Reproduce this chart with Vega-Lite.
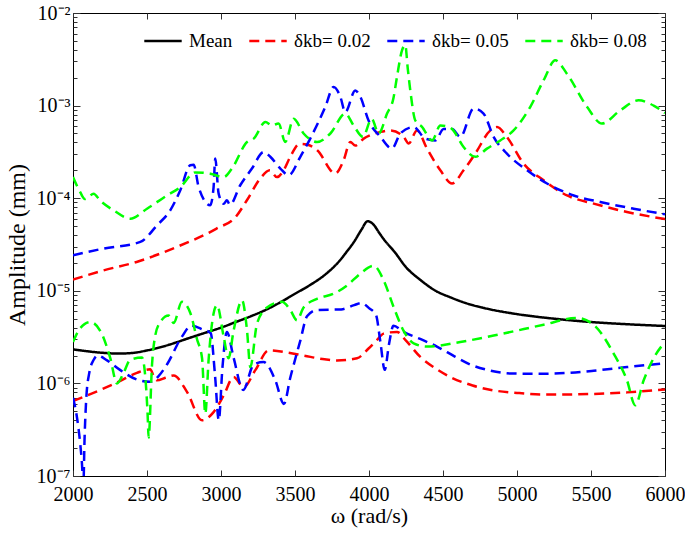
{
"$schema": "https://vega.github.io/schema/vega-lite/v6.json",
"width": 592, "height": 463,
"autosize": {"type": "none"},
"padding": {"left": 73, "top": 13, "right": 20, "bottom": 64},
"config": {"view": {"stroke": "black", "strokeWidth": 1}, "font": "Liberation Serif, Times New Roman, serif", "axis": {"grid": false, "domain": false, "tickColor": "#333", "labelColor": "black", "titleColor": "black", "labelFont": "Liberation Serif, Times New Roman, serif", "titleFont": "Liberation Serif, Times New Roman, serif", "titleFontWeight": "normal", "labelFlush": false}, "legend": {"labelFont": "Liberation Serif, Times New Roman, serif"}},
"datasets": {
"curves": [
{"s":"Mean","c":"m","w":2000,"a":2.33e-6},{"s":"Mean","c":"m","w":2100,"a":2.22e-6},{"s":"Mean","c":"m","w":2200,"a":2.14e-6},{"s":"Mean","c":"m","w":2300,"a":2.10e-6},{"s":"Mean","c":"m","w":2400,"a":2.13e-6},{"s":"Mean","c":"m","w":2500,"a":2.27e-6},{"s":"Mean","c":"m","w":2600,"a":2.48e-6},{"s":"Mean","c":"m","w":2700,"a":2.78e-6},{"s":"Mean","c":"m","w":2800,"a":3.15e-6},{"s":"Mean","c":"m","w":2900,"a":3.55e-6},{"s":"Mean","c":"m","w":3000,"a":4.0e-6},{"s":"Mean","c":"m","w":3100,"a":4.6e-6},{"s":"Mean","c":"m","w":3200,"a":5.3e-6},{"s":"Mean","c":"m","w":3300,"a":6.2e-6},{"s":"Mean","c":"m","w":3400,"a":7.5e-6},{"s":"Mean","c":"m","w":3500,"a":9.3e-6},{"s":"Mean","c":"m","w":3600,"a":1.15e-5},{"s":"Mean","c":"m","w":3700,"a":1.48e-5},{"s":"Mean","c":"m","w":3800,"a":2.1e-5},{"s":"Mean","c":"m","w":3850,"a":2.65e-5},{"s":"Mean","c":"m","w":3900,"a":3.4e-5},{"s":"Mean","c":"m","w":3950,"a":4.6e-5},{"s":"Mean","c":"m","w":3990,"a":5.65e-5},{"s":"Mean","c":"m","w":4030,"a":5.2e-5},{"s":"Mean","c":"m","w":4070,"a":4.2e-5},{"s":"Mean","c":"m","w":4100,"a":3.6e-5},{"s":"Mean","c":"m","w":4175,"a":2.6e-5},{"s":"Mean","c":"m","w":4250,"a":1.8e-5},{"s":"Mean","c":"m","w":4350,"a":1.3e-5},{"s":"Mean","c":"m","w":4450,"a":1.0e-5},{"s":"Mean","c":"m","w":4550,"a":8.5e-6},{"s":"Mean","c":"m","w":4650,"a":7.4e-6},{"s":"Mean","c":"m","w":4800,"a":6.4e-6},{"s":"Mean","c":"m","w":5000,"a":5.6e-6},{"s":"Mean","c":"m","w":5250,"a":5.0e-6},{"s":"Mean","c":"m","w":5500,"a":4.6e-6},{"s":"Mean","c":"m","w":5750,"a":4.35e-6},{"s":"Mean","c":"m","w":6000,"a":4.17e-6},
{"s":"δkb= 0.02","c":"r1","w":2000,"a":1.32e-5},{"s":"δkb= 0.02","c":"r1","w":2200,"a":1.65e-5},{"s":"δkb= 0.02","c":"r1","w":2430,"a":2.05e-5},{"s":"δkb= 0.02","c":"r1","w":2700,"a":2.97e-5},{"s":"δkb= 0.02","c":"r1","w":2970,"a":4.7e-5},{"s":"δkb= 0.02","c":"r1","w":3100,"a":6.3e-5},{"s":"δkb= 0.02","c":"r1","w":3175,"a":9.5e-5},{"s":"δkb= 0.02","c":"r1","w":3265,"a":1.63e-4},{"s":"δkb= 0.02","c":"r1","w":3330,"a":2.0e-4},{"s":"δkb= 0.02","c":"r1","w":3378,"a":1.69e-4},{"s":"δkb= 0.02","c":"r1","w":3423,"a":2.0e-4},{"s":"δkb= 0.02","c":"r1","w":3468,"a":2.8e-4},{"s":"δkb= 0.02","c":"r1","w":3530,"a":3.85e-4},{"s":"δkb= 0.02","c":"r1","w":3580,"a":3.8e-4},{"s":"δkb= 0.02","c":"r1","w":3650,"a":3.3e-4},{"s":"δkb= 0.02","c":"r1","w":3772,"a":1.85e-4},{"s":"δkb= 0.02","c":"r1","w":3828,"a":2.56e-4},{"s":"δkb= 0.02","c":"r1","w":3874,"a":4.05e-4},{"s":"δkb= 0.02","c":"r1","w":3907,"a":3.7e-4},{"s":"δkb= 0.02","c":"r1","w":3964,"a":4.4e-4},{"s":"δkb= 0.02","c":"r1","w":4010,"a":4.8e-4},{"s":"δkb= 0.02","c":"r1","w":4077,"a":5.2e-4},{"s":"δkb= 0.02","c":"r1","w":4145,"a":5.4e-4},{"s":"δkb= 0.02","c":"r1","w":4234,"a":4.6e-4},{"s":"δkb= 0.02","c":"r1","w":4268,"a":3.9e-4},{"s":"δkb= 0.02","c":"r1","w":4324,"a":5.4e-4},{"s":"δkb= 0.02","c":"r1","w":4392,"a":3.43e-4},{"s":"δkb= 0.02","c":"r1","w":4482,"a":2.0e-4},{"s":"δkb= 0.02","c":"r1","w":4561,"a":1.44e-4},{"s":"δkb= 0.02","c":"r1","w":4639,"a":2.0e-4},{"s":"δkb= 0.02","c":"r1","w":4718,"a":3.03e-4},{"s":"δkb= 0.02","c":"r1","w":4820,"a":5.4e-4},{"s":"δkb= 0.02","c":"r1","w":4865,"a":5.87e-4},{"s":"δkb= 0.02","c":"r1","w":4932,"a":4.58e-4},{"s":"δkb= 0.02","c":"r1","w":5045,"a":2.36e-4},{"s":"δkb= 0.02","c":"r1","w":5180,"a":1.56e-4},{"s":"δkb= 0.02","c":"r1","w":5338,"a":1.07e-4},{"s":"δkb= 0.02","c":"r1","w":5518,"a":8.74e-5},{"s":"δkb= 0.02","c":"r1","w":5743,"a":7.1e-5},{"s":"δkb= 0.02","c":"r1","w":6000,"a":5.95e-5},
{"s":"δkb= 0.02","c":"r2","w":2000,"a":6.46e-7},{"s":"δkb= 0.02","c":"r2","w":2095,"a":7.4e-7},{"s":"δkb= 0.02","c":"r2","w":2200,"a":8.7e-7},{"s":"δkb= 0.02","c":"r2","w":2297,"a":1.02e-6},{"s":"δkb= 0.02","c":"r2","w":2432,"a":1.3e-6},{"s":"δkb= 0.02","c":"r2","w":2522,"a":1.42e-6},{"s":"δkb= 0.02","c":"r2","w":2545,"a":1.2e-6},{"s":"δkb= 0.02","c":"r2","w":2568,"a":1.08e-6},{"s":"δkb= 0.02","c":"r2","w":2624,"a":1.15e-6},{"s":"δkb= 0.02","c":"r2","w":2680,"a":1.22e-6},{"s":"δkb= 0.02","c":"r2","w":2770,"a":8.1e-7},{"s":"δkb= 0.02","c":"r2","w":2872,"a":4.0e-7},{"s":"δkb= 0.02","c":"r2","w":2950,"a":4.9e-7},{"s":"δkb= 0.02","c":"r2","w":3018,"a":7.4e-7},{"s":"δkb= 0.02","c":"r2","w":3085,"a":1.17e-6},{"s":"δkb= 0.02","c":"r2","w":3153,"a":9.1e-7},{"s":"δkb= 0.02","c":"r2","w":3232,"a":1.39e-6},{"s":"δkb= 0.02","c":"r2","w":3322,"a":2.27e-6},{"s":"δkb= 0.02","c":"r2","w":3450,"a":2.15e-6},{"s":"δkb= 0.02","c":"r2","w":3558,"a":2.0e-6},{"s":"δkb= 0.02","c":"r2","w":3700,"a":1.82e-6},{"s":"δkb= 0.02","c":"r2","w":3784,"a":1.77e-6},{"s":"δkb= 0.02","c":"r2","w":3919,"a":1.87e-6},{"s":"δkb= 0.02","c":"r2","w":3997,"a":2.38e-6},{"s":"δkb= 0.02","c":"r2","w":4050,"a":2.9e-6},{"s":"δkb= 0.02","c":"r2","w":4099,"a":3.45e-6},{"s":"δkb= 0.02","c":"r2","w":4189,"a":3.6e-6},{"s":"δkb= 0.02","c":"r2","w":4250,"a":2.9e-6},{"s":"δkb= 0.02","c":"r2","w":4347,"a":1.93e-6},{"s":"δkb= 0.02","c":"r2","w":4450,"a":1.45e-6},{"s":"δkb= 0.02","c":"r2","w":4550,"a":1.17e-6},{"s":"δkb= 0.02","c":"r2","w":4700,"a":9.5e-7},{"s":"δkb= 0.02","c":"r2","w":4842,"a":8.4e-7},{"s":"δkb= 0.02","c":"r2","w":5000,"a":7.9e-7},{"s":"δkb= 0.02","c":"r2","w":5180,"a":7.6e-7},{"s":"δkb= 0.02","c":"r2","w":5350,"a":7.6e-7},{"s":"δkb= 0.02","c":"r2","w":5518,"a":7.7e-7},{"s":"δkb= 0.02","c":"r2","w":5743,"a":8.0e-7},{"s":"δkb= 0.02","c":"r2","w":6000,"a":8.6e-7},
{"s":"δkb= 0.05","c":"b1","w":2000,"a":2.42e-5},{"s":"δkb= 0.05","c":"b1","w":2207,"a":2.86e-5},{"s":"δkb= 0.05","c":"b1","w":2455,"a":3.37e-5},{"s":"δkb= 0.05","c":"b1","w":2568,"a":5.1e-5},{"s":"δkb= 0.05","c":"b1","w":2657,"a":7.4e-5},{"s":"δkb= 0.05","c":"b1","w":2725,"a":1.22e-4},{"s":"δkb= 0.05","c":"b1","w":2792,"a":2.27e-4},{"s":"δkb= 0.05","c":"b1","w":2815,"a":2.3e-4},{"s":"δkb= 0.05","c":"b1","w":2849,"a":1.32e-4},{"s":"δkb= 0.05","c":"b1","w":2927,"a":8.4e-5},{"s":"δkb= 0.05","c":"b1","w":2950,"a":1.32e-4},{"s":"δkb= 0.05","c":"b1","w":2961,"a":2.68e-4},{"s":"δkb= 0.05","c":"b1","w":2984,"a":1.12e-4},{"s":"δkb= 0.05","c":"b1","w":3018,"a":8.7e-5},{"s":"δkb= 0.05","c":"b1","w":3040,"a":9.5e-5},{"s":"δkb= 0.05","c":"b1","w":3060,"a":8.5e-5},{"s":"δkb= 0.05","c":"b1","w":3130,"a":1.38e-4},{"s":"δkb= 0.05","c":"b1","w":3209,"a":2.09e-4},{"s":"δkb= 0.05","c":"b1","w":3288,"a":3.15e-4},{"s":"δkb= 0.05","c":"b1","w":3333,"a":2.8e-4},{"s":"δkb= 0.05","c":"b1","w":3401,"a":2.09e-4},{"s":"δkb= 0.05","c":"b1","w":3457,"a":1.77e-4},{"s":"δkb= 0.05","c":"b1","w":3536,"a":2.8e-4},{"s":"δkb= 0.05","c":"b1","w":3603,"a":4.4e-4},{"s":"δkb= 0.05","c":"b1","w":3705,"a":9.7e-4},{"s":"δkb= 0.05","c":"b1","w":3761,"a":1.59e-3},{"s":"δkb= 0.05","c":"b1","w":3806,"a":1.25e-3},{"s":"δkb= 0.05","c":"b1","w":3840,"a":8.5e-4},{"s":"δkb= 0.05","c":"b1","w":3907,"a":1.46e-3},{"s":"δkb= 0.05","c":"b1","w":3941,"a":1.25e-3},{"s":"δkb= 0.05","c":"b1","w":3997,"a":6.9e-4},{"s":"δkb= 0.05","c":"b1","w":4077,"a":4.6e-4},{"s":"δkb= 0.05","c":"b1","w":4155,"a":3.43e-4},{"s":"δkb= 0.05","c":"b1","w":4212,"a":5.0e-4},{"s":"δkb= 0.05","c":"b1","w":4302,"a":5.87e-4},{"s":"δkb= 0.05","c":"b1","w":4380,"a":4.4e-4},{"s":"δkb= 0.05","c":"b1","w":4448,"a":4.2e-4},{"s":"δkb= 0.05","c":"b1","w":4504,"a":5.6e-4},{"s":"δkb= 0.05","c":"b1","w":4561,"a":5.6e-4},{"s":"δkb= 0.05","c":"b1","w":4617,"a":4.6e-4},{"s":"δkb= 0.05","c":"b1","w":4707,"a":9.3e-4},{"s":"δkb= 0.05","c":"b1","w":4774,"a":8.2e-4},{"s":"δkb= 0.05","c":"b1","w":4842,"a":4.6e-4},{"s":"δkb= 0.05","c":"b1","w":4932,"a":3.03e-4},{"s":"δkb= 0.05","c":"b1","w":5068,"a":2.0e-4},{"s":"δkb= 0.05","c":"b1","w":5203,"a":1.44e-4},{"s":"δkb= 0.05","c":"b1","w":5383,"a":1.07e-4},{"s":"δkb= 0.05","c":"b1","w":5563,"a":9.1e-5},{"s":"δkb= 0.05","c":"b1","w":5788,"a":7.7e-5},{"s":"δkb= 0.05","c":"b1","w":6000,"a":6.7e-5},
{"s":"δkb= 0.05","c":"b2","w":2000,"a":7.0e-7},{"s":"δkb= 0.05","c":"b2","w":2020,"a":5.0e-7},{"s":"δkb= 0.05","c":"b2","w":2040,"a":3.0e-7},{"s":"δkb= 0.05","c":"b2","w":2060,"a":1.4e-7},{"s":"δkb= 0.05","c":"b2","w":2070,"a":8e-8},{"s":"δkb= 0.05","c":"b2","w":2078,"a":2.5e-7},{"s":"δkb= 0.05","c":"b2","w":2090,"a":7e-7},{"s":"δkb= 0.05","c":"b2","w":2110,"a":1.3e-6},{"s":"δkb= 0.05","c":"b2","w":2140,"a":1.8e-6},{"s":"δkb= 0.05","c":"b2","w":2165,"a":2.0e-6},{"s":"δkb= 0.05","c":"b2","w":2230,"a":1.77e-6},{"s":"δkb= 0.05","c":"b2","w":2320,"a":1.39e-6},{"s":"δkb= 0.05","c":"b2","w":2432,"a":1.1e-6},{"s":"δkb= 0.05","c":"b2","w":2522,"a":1.04e-6},{"s":"δkb= 0.05","c":"b2","w":2578,"a":1.2e-6},{"s":"δkb= 0.05","c":"b2","w":2635,"a":1.6e-6},{"s":"δkb= 0.05","c":"b2","w":2736,"a":3.2e-6},{"s":"δkb= 0.05","c":"b2","w":2800,"a":4.2e-6},{"s":"δkb= 0.05","c":"b2","w":2880,"a":3.8e-6},{"s":"δkb= 0.05","c":"b2","w":2930,"a":3.5e-6},{"s":"δkb= 0.05","c":"b2","w":2960,"a":1.2e-6},{"s":"δkb= 0.05","c":"b2","w":2985,"a":4.0e-7},{"s":"δkb= 0.05","c":"b2","w":3010,"a":1.5e-6},{"s":"δkb= 0.05","c":"b2","w":3040,"a":3.6e-6},{"s":"δkb= 0.05","c":"b2","w":3085,"a":1.9e-6},{"s":"δkb= 0.05","c":"b2","w":3150,"a":8.5e-7},{"s":"δkb= 0.05","c":"b2","w":3221,"a":1.6e-6},{"s":"δkb= 0.05","c":"b2","w":3288,"a":1.7e-6},{"s":"δkb= 0.05","c":"b2","w":3367,"a":1.08e-6},{"s":"δkb= 0.05","c":"b2","w":3425,"a":6.0e-7},{"s":"δkb= 0.05","c":"b2","w":3468,"a":1.15e-6},{"s":"δkb= 0.05","c":"b2","w":3536,"a":2.9e-6},{"s":"δkb= 0.05","c":"b2","w":3581,"a":5.3e-6},{"s":"δkb= 0.05","c":"b2","w":3649,"a":6.2e-6},{"s":"δkb= 0.05","c":"b2","w":3812,"a":6.3e-6},{"s":"δkb= 0.05","c":"b2","w":3900,"a":7.0e-6},{"s":"δkb= 0.05","c":"b2","w":3950,"a":7.4e-6},{"s":"δkb= 0.05","c":"b2","w":4000,"a":6.5e-6},{"s":"δkb= 0.05","c":"b2","w":4047,"a":5.5e-6},{"s":"δkb= 0.05","c":"b2","w":4077,"a":2.8e-6},{"s":"δkb= 0.05","c":"b2","w":4106,"a":1.4e-6},{"s":"δkb= 0.05","c":"b2","w":4136,"a":2.7e-6},{"s":"δkb= 0.05","c":"b2","w":4165,"a":4.2e-6},{"s":"δkb= 0.05","c":"b2","w":4234,"a":3.6e-6},{"s":"δkb= 0.05","c":"b2","w":4350,"a":3.0e-6},{"s":"δkb= 0.05","c":"b2","w":4459,"a":2.5e-6},{"s":"δkb= 0.05","c":"b2","w":4580,"a":1.95e-6},{"s":"δkb= 0.05","c":"b2","w":4684,"a":1.6e-6},{"s":"δkb= 0.05","c":"b2","w":4800,"a":1.4e-6},{"s":"δkb= 0.05","c":"b2","w":4955,"a":1.28e-6},{"s":"δkb= 0.05","c":"b2","w":5180,"a":1.27e-6},{"s":"δkb= 0.05","c":"b2","w":5350,"a":1.3e-6},{"s":"δkb= 0.05","c":"b2","w":5518,"a":1.37e-6},{"s":"δkb= 0.05","c":"b2","w":5743,"a":1.5e-6},{"s":"δkb= 0.05","c":"b2","w":6000,"a":1.65e-6},
{"s":"δkb= 0.08","c":"g1","w":2000,"a":1.69e-4},{"s":"δkb= 0.08","c":"g1","w":2049,"a":1.16e-4},{"s":"δkb= 0.08","c":"g1","w":2080,"a":9.8e-5},{"s":"δkb= 0.08","c":"g1","w":2105,"a":1.03e-4},{"s":"δkb= 0.08","c":"g1","w":2139,"a":1.12e-4},{"s":"δkb= 0.08","c":"g1","w":2184,"a":9.4e-5},{"s":"δkb= 0.08","c":"g1","w":2274,"a":7.4e-5},{"s":"δkb= 0.08","c":"g1","w":2387,"a":6.0e-5},{"s":"δkb= 0.08","c":"g1","w":2500,"a":7.7e-5},{"s":"δkb= 0.08","c":"g1","w":2635,"a":1.07e-4},{"s":"δkb= 0.08","c":"g1","w":2725,"a":1.32e-4},{"s":"δkb= 0.08","c":"g1","w":2826,"a":1.9e-4},{"s":"δkb= 0.08","c":"g1","w":2927,"a":1.84e-4},{"s":"δkb= 0.08","c":"g1","w":3018,"a":1.69e-4},{"s":"δkb= 0.08","c":"g1","w":3074,"a":2.09e-4},{"s":"δkb= 0.08","c":"g1","w":3176,"a":4.05e-4},{"s":"δkb= 0.08","c":"g1","w":3221,"a":4.4e-4},{"s":"δkb= 0.08","c":"g1","w":3300,"a":6.65e-4},{"s":"δkb= 0.08","c":"g1","w":3345,"a":6.1e-4},{"s":"δkb= 0.08","c":"g1","w":3389,"a":6.4e-4},{"s":"δkb= 0.08","c":"g1","w":3434,"a":4.05e-4},{"s":"δkb= 0.08","c":"g1","w":3491,"a":7.2e-4},{"s":"δkb= 0.08","c":"g1","w":3558,"a":5.0e-4},{"s":"δkb= 0.08","c":"g1","w":3649,"a":4.05e-4},{"s":"δkb= 0.08","c":"g1","w":3739,"a":5.0e-4},{"s":"δkb= 0.08","c":"g1","w":3840,"a":8.2e-4},{"s":"δkb= 0.08","c":"g1","w":3896,"a":6.1e-4},{"s":"δkb= 0.08","c":"g1","w":3959,"a":4.6e-4},{"s":"δkb= 0.08","c":"g1","w":4018,"a":7.2e-4},{"s":"δkb= 0.08","c":"g1","w":4065,"a":5.0e-4},{"s":"δkb= 0.08","c":"g1","w":4122,"a":8.2e-4},{"s":"δkb= 0.08","c":"g1","w":4165,"a":1.2e-3},{"s":"δkb= 0.08","c":"g1","w":4189,"a":2.04e-3},{"s":"δkb= 0.08","c":"g1","w":4223,"a":3.95e-3},{"s":"δkb= 0.08","c":"g1","w":4245,"a":4.5e-3},{"s":"δkb= 0.08","c":"g1","w":4262,"a":2.5e-3},{"s":"δkb= 0.08","c":"g1","w":4279,"a":1.46e-3},{"s":"δkb= 0.08","c":"g1","w":4313,"a":6.9e-4},{"s":"δkb= 0.08","c":"g1","w":4358,"a":5.9e-4},{"s":"δkb= 0.08","c":"g1","w":4426,"a":4.2e-4},{"s":"δkb= 0.08","c":"g1","w":4482,"a":6.1e-4},{"s":"δkb= 0.08","c":"g1","w":4520,"a":6.0e-4},{"s":"δkb= 0.08","c":"g1","w":4561,"a":5.6e-4},{"s":"δkb= 0.08","c":"g1","w":4639,"a":3.57e-4},{"s":"δkb= 0.08","c":"g1","w":4718,"a":2.8e-4},{"s":"δkb= 0.08","c":"g1","w":4797,"a":3.43e-4},{"s":"δkb= 0.08","c":"g1","w":4887,"a":4.2e-4},{"s":"δkb= 0.08","c":"g1","w":4977,"a":5.4e-4},{"s":"δkb= 0.08","c":"g1","w":5090,"a":9.7e-4},{"s":"δkb= 0.08","c":"g1","w":5180,"a":1.88e-3},{"s":"δkb= 0.08","c":"g1","w":5259,"a":3.08e-3},{"s":"δkb= 0.08","c":"g1","w":5338,"a":2.2e-3},{"s":"δkb= 0.08","c":"g1","w":5473,"a":9.7e-4},{"s":"δkb= 0.08","c":"g1","w":5574,"a":6.4e-4},{"s":"δkb= 0.08","c":"g1","w":5698,"a":8.9e-4},{"s":"δkb= 0.08","c":"g1","w":5822,"a":1.14e-3},{"s":"δkb= 0.08","c":"g1","w":5923,"a":1.0e-3},{"s":"δkb= 0.08","c":"g1","w":6000,"a":8.3e-4},
{"s":"δkb= 0.08","c":"g2","w":2000,"a":2.8e-6},{"s":"δkb= 0.08","c":"g2","w":2049,"a":3.95e-6},{"s":"δkb= 0.08","c":"g2","w":2117,"a":4.6e-6},{"s":"δkb= 0.08","c":"g2","w":2196,"a":3.4e-6},{"s":"δkb= 0.08","c":"g2","w":2252,"a":1.87e-6},{"s":"δkb= 0.08","c":"g2","w":2297,"a":1.0e-6},{"s":"δkb= 0.08","c":"g2","w":2342,"a":1.3e-6},{"s":"δkb= 0.08","c":"g2","w":2387,"a":1.8e-6},{"s":"δkb= 0.08","c":"g2","w":2466,"a":1.9e-6},{"s":"δkb= 0.08","c":"g2","w":2489,"a":1.15e-6},{"s":"δkb= 0.08","c":"g2","w":2504,"a":4.7e-7},{"s":"δkb= 0.08","c":"g2","w":2511,"a":2.6e-7},{"s":"δkb= 0.08","c":"g2","w":2534,"a":1.6e-6},{"s":"δkb= 0.08","c":"g2","w":2556,"a":3.3e-6},{"s":"δkb= 0.08","c":"g2","w":2590,"a":4.6e-6},{"s":"δkb= 0.08","c":"g2","w":2646,"a":5.4e-6},{"s":"δkb= 0.08","c":"g2","w":2680,"a":4.5e-6},{"s":"δkb= 0.08","c":"g2","w":2736,"a":7.6e-6},{"s":"δkb= 0.08","c":"g2","w":2792,"a":5.8e-6},{"s":"δkb= 0.08","c":"g2","w":2838,"a":3.0e-6},{"s":"δkb= 0.08","c":"g2","w":2872,"a":1.87e-6},{"s":"δkb= 0.08","c":"g2","w":2894,"a":4.7e-7},{"s":"δkb= 0.08","c":"g2","w":2916,"a":1.77e-6},{"s":"δkb= 0.08","c":"g2","w":2950,"a":5.7e-6},{"s":"δkb= 0.08","c":"g2","w":2973,"a":7.0e-6},{"s":"δkb= 0.08","c":"g2","w":3018,"a":3.2e-6},{"s":"δkb= 0.08","c":"g2","w":3051,"a":1.87e-6},{"s":"δkb= 0.08","c":"g2","w":3085,"a":3.7e-6},{"s":"δkb= 0.08","c":"g2","w":3142,"a":7.9e-6},{"s":"δkb= 0.08","c":"g2","w":3176,"a":3.7e-6},{"s":"δkb= 0.08","c":"g2","w":3198,"a":1.5e-6},{"s":"δkb= 0.08","c":"g2","w":3243,"a":4.4e-6},{"s":"δkb= 0.08","c":"g2","w":3311,"a":6.6e-6},{"s":"δkb= 0.08","c":"g2","w":3412,"a":7.6e-6},{"s":"δkb= 0.08","c":"g2","w":3468,"a":6.2e-6},{"s":"δkb= 0.08","c":"g2","w":3514,"a":4.8e-6},{"s":"δkb= 0.08","c":"g2","w":3558,"a":6.6e-6},{"s":"δkb= 0.08","c":"g2","w":3649,"a":8.2e-6},{"s":"δkb= 0.08","c":"g2","w":3761,"a":9.3e-6},{"s":"δkb= 0.08","c":"g2","w":3851,"a":1.14e-5},{"s":"δkb= 0.08","c":"g2","w":3941,"a":1.53e-5},{"s":"δkb= 0.08","c":"g2","w":4031,"a":1.86e-5},{"s":"δkb= 0.08","c":"g2","w":4099,"a":1.3e-5},{"s":"δkb= 0.08","c":"g2","w":4166,"a":6.7e-6},{"s":"δkb= 0.08","c":"g2","w":4234,"a":3.7e-6},{"s":"δkb= 0.08","c":"g2","w":4302,"a":2.7e-6},{"s":"δkb= 0.08","c":"g2","w":4392,"a":2.5e-6},{"s":"δkb= 0.08","c":"g2","w":4617,"a":2.8e-6},{"s":"δkb= 0.08","c":"g2","w":4887,"a":3.4e-6},{"s":"δkb= 0.08","c":"g2","w":5180,"a":4.3e-6},{"s":"δkb= 0.08","c":"g2","w":5405,"a":5.1e-6},{"s":"δkb= 0.08","c":"g2","w":5518,"a":4.3e-6},{"s":"δkb= 0.08","c":"g2","w":5653,"a":2.1e-6},{"s":"δkb= 0.08","c":"g2","w":5743,"a":1.08e-6},{"s":"δkb= 0.08","c":"g2","w":5799,"a":5.8e-7},{"s":"δkb= 0.08","c":"g2","w":5856,"a":1.08e-6},{"s":"δkb= 0.08","c":"g2","w":5923,"a":1.87e-6},{"s":"δkb= 0.08","c":"g2","w":6000,"a":2.8e-6}
],
"frame": [{"w":2000,"a":1e-7}]
},
"layer": [
{
"data": {"name": "curves"},
"mark": {"type": "line", "clip": true, "strokeWidth": 2.5, "interpolate": "monotone"},
"encoding": {
"x": {"field": "w", "type": "quantitative", "scale": {"domain": [2000, 6000], "nice": false, "zero": false},
 "axis": {"orient": "bottom", "values": [2000,2500,3000,3500,4000,4500,5000,5500,6000], "format": "d", "tickSize": -6, "labelPadding": 14, "labelFontSize": 20, "title": "ω (rad/s)", "titleFontSize": 22, "titlePadding": 1}},
"y": {"field": "a", "type": "quantitative", "scale": {"type": "log", "domain": [1e-7, 1e-2], "nice": false},
 "axis": {"orient": "left", "values": [1e-7,2e-7,3e-7,4e-7,5e-7,6e-7,7e-7,8e-7,9e-7,1e-6,2e-6,3e-6,4e-6,5e-6,6e-6,7e-6,8e-6,9e-6,1e-5,2e-5,3e-5,4e-5,5e-5,6e-5,7e-5,8e-5,9e-5,1e-4,2e-4,3e-4,4e-4,5e-4,6e-4,7e-4,8e-4,9e-4,1e-3,2e-3,3e-3,4e-3,5e-3,6e-3,7e-3,8e-3,9e-3,1e-2],
  "tickSize": {"condition": {"test": "abs(log(datum.value)/LN10 - round(log(datum.value)/LN10)) < 0.01", "value": -7}, "value": -4},
  "labelExpr": "abs(log(datum.value)/LN10 - round(log(datum.value)/LN10)) < 0.01 ? '10' + (datum.value > 0.005 ? '⁻²' : datum.value > 0.0005 ? '⁻³' : datum.value > 0.00005 ? '⁻⁴' : datum.value > 0.000005 ? '⁻⁵' : datum.value > 0.0000005 ? '⁻⁶' : '⁻⁷') : ''",
  "labelPadding": 10, "labelFontSize": 20, "labelOverlap": false, "title": "Amplitude (mm)", "titleFontSize": 24, "titlePadding": 7}},
"color": {"field": "s", "type": "nominal", "scale": {"domain": ["Mean", "δkb= 0.02", "δkb= 0.05", "δkb= 0.08"], "range": ["#000000", "#ff0000", "#0000ff", "#00ff00"]},
 "legend": {"title": null, "orient": "none", "legendX": 70, "legendY": 8, "direction": "horizontal", "columns": 4, "symbolType": "stroke", "symbolSize": 1400, "symbolStrokeWidth": 2.5, "labelFontSize": 19, "labelFont": "Liberation Serif, Times New Roman, serif", "labelColor": "black", "columnPadding": 11, "labelOffset": 6}},
"strokeDash": {"field": "s", "type": "nominal", "scale": {"domain": ["Mean", "δkb= 0.02", "δkb= 0.05", "δkb= 0.08"], "range": [[1, 0], [10, 6], [10, 6], [10, 6]]},
 "legend": {"title": null, "orient": "none", "legendX": 70, "legendY": 8, "direction": "horizontal", "columns": 4, "symbolType": "stroke", "symbolSize": 1400, "symbolStrokeWidth": 2.5, "labelFontSize": 19, "labelFont": "Liberation Serif, Times New Roman, serif", "labelColor": "black", "columnPadding": 11, "labelOffset": 6}},
"detail": {"field": "c", "type": "nominal"}
}
},
{
"data": {"name": "frame"},
"mark": {"type": "point", "opacity": 0},
"encoding": {
"x": {"field": "w", "type": "quantitative", "scale": {"domain": [2000, 6000], "nice": false, "zero": false},
 "axis": {"orient": "top", "values": [2000,2500,3000,3500,4000,4500,5000,5500,6000], "tickSize": -6, "labels": false, "title": null}},
"y": {"field": "a", "type": "quantitative", "scale": {"type": "log", "domain": [1e-7, 1e-2], "nice": false},
 "axis": {"orient": "right", "values": [1e-7,2e-7,3e-7,4e-7,5e-7,6e-7,7e-7,8e-7,9e-7,1e-6,2e-6,3e-6,4e-6,5e-6,6e-6,7e-6,8e-6,9e-6,1e-5,2e-5,3e-5,4e-5,5e-5,6e-5,7e-5,8e-5,9e-5,1e-4,2e-4,3e-4,4e-4,5e-4,6e-4,7e-4,8e-4,9e-4,1e-3,2e-3,3e-3,4e-3,5e-3,6e-3,7e-3,8e-3,9e-3,1e-2],
  "tickSize": {"condition": {"test": "abs(log(datum.value)/LN10 - round(log(datum.value)/LN10)) < 0.01", "value": -7}, "value": -4},
  "labels": false, "title": null}}
}
}
],
"resolve": {"axis": {"x": "independent", "y": "independent"}}
}
